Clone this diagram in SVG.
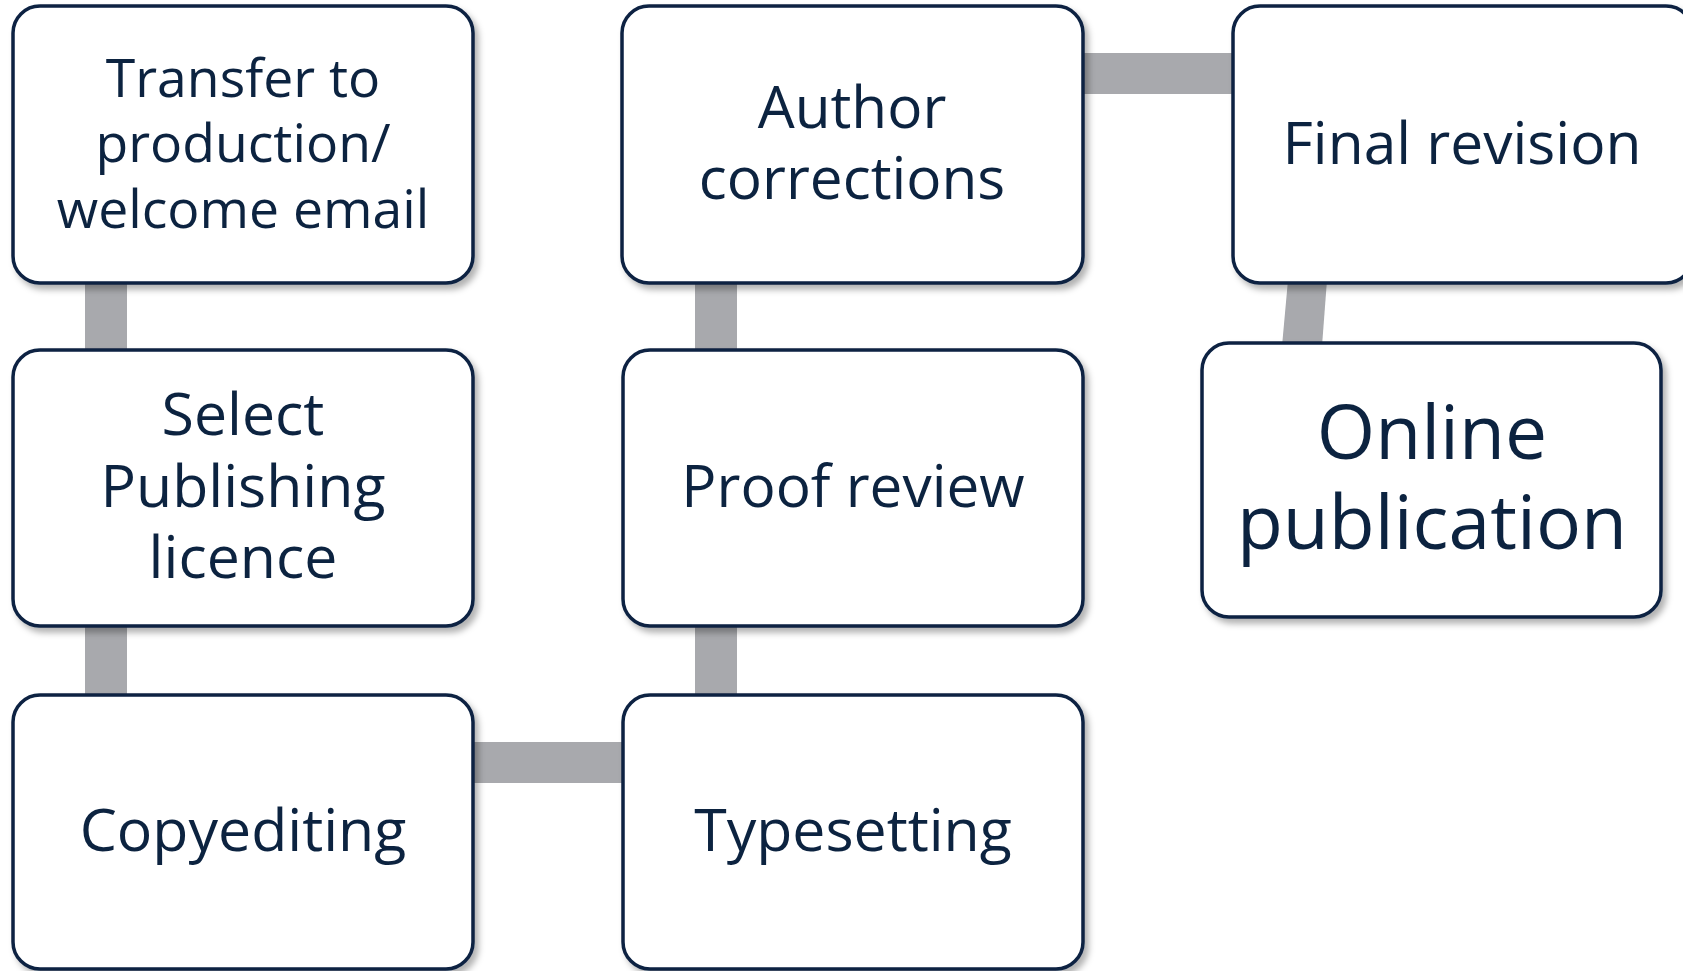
<svg xmlns="http://www.w3.org/2000/svg" width="1683" height="971" viewBox="0 0 1683 971">
  <defs>
    <filter id="shadow" x="-5%" y="-5%" width="115%" height="120%">
      <feDropShadow dx="4" dy="5" stdDeviation="3" flood-color="#000000" flood-opacity="0.3"/>
    </filter>
  </defs>
  <style>
    .box { fill: #ffffff; stroke: #0b2142; stroke-width: 3.5; filter: url(#shadow); }
    .label { font-family: "Open Sans", "Noto Sans", sans-serif; fill: #0c2340; text-anchor: middle; }
    .link { fill: #a8a9ad; stroke: none; }
  </style>
  <rect width="1683" height="971" fill="#ffffff"/>

  <!-- connectors -->
  <g id="connectors">
    <rect class="link" x="85" y="280" width="42" height="74"/>
    <rect class="link" x="85" y="622" width="42" height="76"/>
    <rect class="link" x="695" y="280" width="42" height="74"/>
    <rect class="link" x="695" y="622" width="42" height="76"/>
    <rect class="link" x="470" y="742" width="156" height="41"/>
    <rect class="link" x="1080" y="53" width="156" height="41"/>
    <polygon class="link" points="1288,280 1327,280 1322,346 1282,346"/>
  </g>

  <g id="transfer">
    <rect class="box" x="13" y="6" width="460" height="277" rx="27"/>
    <text class="label" font-size="53.5" x="243"><tspan x="243" y="97">Transfer to</tspan><tspan x="243" y="162">production/</tspan><tspan x="243" y="228">welcome email</tspan></text>
  </g>

  <g id="licence">
    <rect class="box" x="13" y="350" width="460" height="276" rx="27"/>
    <text class="label" font-size="59" x="243"><tspan x="243" y="435">Select</tspan><tspan x="243" y="507">Publishing</tspan><tspan x="243" y="578">licence</tspan></text>
  </g>

  <g id="copyediting">
    <rect class="box" x="13" y="695" width="460" height="274" rx="27"/>
    <text class="label" font-size="59" x="243" y="851">Copyediting</text>
  </g>

  <g id="typesetting">
    <rect class="box" x="623" y="695" width="460" height="274" rx="27"/>
    <text class="label" font-size="59" x="853" y="851">Typesetting</text>
  </g>

  <g id="proof">
    <rect class="box" x="623" y="350" width="460" height="276" rx="27"/>
    <text class="label" font-size="58.5" x="853" y="507">Proof review</text>
  </g>

  <g id="author">
    <rect class="box" x="622" y="6" width="461" height="277" rx="27"/>
    <text class="label" font-size="58.5" x="852"><tspan x="852" y="128">Author</tspan><tspan x="852" y="199">corrections</tspan></text>
  </g>

  <g id="final">
    <rect class="box" x="1233" y="6" width="460" height="277" rx="27"/>
    <text class="label" font-size="58.7" x="1462" y="164">Final revision</text>
  </g>

  <g id="online">
    <rect class="box" x="1202" y="343" width="459" height="274" rx="27"/>
    <text class="label" font-size="75" x="1432"><tspan x="1432" y="459">Online</tspan><tspan x="1432" y="549">publication</tspan></text>
  </g>
</svg>
